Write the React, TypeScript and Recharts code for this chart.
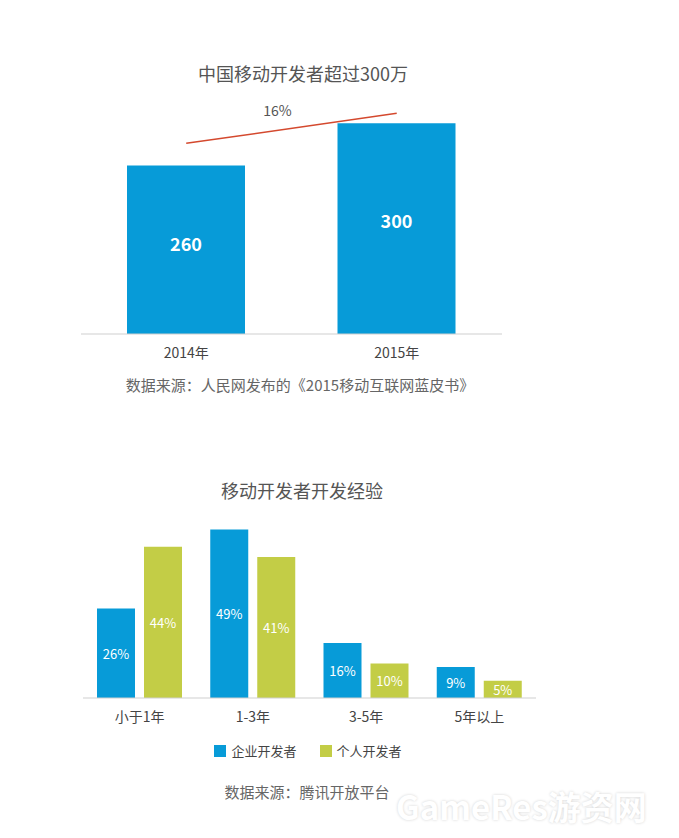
import React from 'react';
import { BarChart, Bar, XAxis, YAxis, ReferenceLine, LabelList, Legend, Label } from 'recharts';

// chart 1: developer count (万)
const years = ['2014年', '2015年'];
const developers = [260, 300];
const growthLabel = '16%';
const trendValues = [281, 309.5];

// chart 2: experience distribution (%)
const experienceBands = ['小于1年', '1-3年', '3-5年', '5年以上'];
const seriesNames = ['企业开发者', '个人开发者'];
const enterpriseShare = [26, 49, 16, 9];
const individualShare = [44, 41, 10, 5];

const BLUE = '#079bd8';
const GREEN = '#c3cd46';
const FONT = '"Noto Sans CJK SC", "Noto Sans", sans-serif';

const topData = years.map((year, i) => ({ year, value: developers[i] }));
const bottomData = experienceBands.map((band, i) => ({
  band,
  enterprise: enterpriseShare[i],
  individual: individualShare[i],
}));

const TopValueLabel = (props: any) => {
  const { x, y, width, height, value } = props;
  return (
    <text x={x + width / 2} y={y + height * 0.46} textAnchor="middle" dominantBaseline="central"
      fill="#fff" fontSize={18} fontWeight={700} fontFamily={FONT}>
      {value}
    </text>
  );
};

const PctLabel = (props: any) => {
  const { x, y, width, height, value } = props;
  return (
    <text x={x + width / 2} y={y + height / 2} textAnchor="middle" dominantBaseline="central"
      fill="#fff" fontSize={13} fontFamily={FONT}>
      {value}%
    </text>
  );
};

const GrowthLabel = (props: any) => {
  const vb = props.viewBox || {};
  const cx = (vb.x ?? 186) + (vb.width ?? 210) / 2 - 14;
  const cy = (vb.y ?? 113) - 3;
  return (
    <text x={cx} y={cy} textAnchor="middle" dominantBaseline="central"
      fill="#555" fontSize={14} fontFamily={FONT}>
      {growthLabel}
    </text>
  );
};

const renderLegend = (props: any) => {
  const payload = [...(props.payload || [])].sort(
    (a: any, b: any) => seriesNames.indexOf(a.value) - seriesNames.indexOf(b.value)
  );
  return (
    <div style={{ display: 'flex', justifyContent: 'center', gap: 23, fontFamily: FONT }}>
      {payload.map((entry: any) => (
        <div key={entry.value} style={{ display: 'flex', alignItems: 'center' }}>
          <span style={{ width: 12, height: 12, background: entry.color, marginRight: 5, display: 'inline-block' }} />
          <span style={{ fontSize: 13, color: '#444', lineHeight: '18px' }}>{entry.value}</span>
        </div>
      ))}
    </div>
  );
};

const textStyle = (x: number, y: number, size: number, color: string): React.CSSProperties => ({
  position: 'absolute',
  left: x - 300,
  top: y - size * 0.7,
  width: 600,
  textAlign: 'center',
  fontSize: size,
  lineHeight: `${size * 1.4}px`,
  color,
  fontFamily: FONT,
  whiteSpace: 'nowrap',
});

export default function App() {
  return (
    <div style={{ position: 'absolute', left: 0, top: 0, width: 679, height: 838, background: '#fff', overflow: 'hidden' }}>
      <div style={textStyle(303, 74, 18, '#555')}>中国移动开发者超过300万</div>

      <div style={{ position: 'absolute', left: 0, top: 0 }}>
        <BarChart width={679} height={400} data={topData} margin={{ top: 18, right: 177, left: 81, bottom: 26 }}>
          <XAxis dataKey="year" height={40} tickLine={false} tickMargin={8}
            axisLine={{ stroke: '#cfcfcf' }} tick={{ fill: '#444', fontSize: 14, fontFamily: FONT }} />
          <YAxis hide domain={[100, 400]} allowDataOverflow />
          <Bar dataKey="value" fill={BLUE} barSize={118} isAnimationActive={false}>
            <LabelList dataKey="value" content={TopValueLabel} />
          </Bar>
          <ReferenceLine
            segment={[{ x: years[0], y: trendValues[0] }, { x: years[1], y: trendValues[1] }]}
            stroke="#d4492e" strokeWidth={1.5} ifOverflow="visible">
            <Label content={GrowthLabel} />
          </ReferenceLine>
        </BarChart>
      </div>

      <div style={textStyle(300, 384, 15, '#666')}>数据来源：人民网发布的《2015移动互联网蓝皮书》</div>

      <div style={textStyle(302, 491, 18, '#555')}>移动开发者开发经验</div>

      <div style={{ position: 'absolute', left: 0, top: 420 }}>
        <BarChart width={679} height={360} data={bottomData} barGap={9}
          margin={{ top: 20, right: 143, left: 83, bottom: 52 }}>
          <XAxis dataKey="band" height={30} tickLine={false} tickMargin={8}
            axisLine={{ stroke: '#cfcfcf' }} tick={{ fill: '#444', fontSize: 14, fontFamily: FONT }} />
          <YAxis hide domain={[0, 75]} />
          <Legend verticalAlign="middle" layout="horizontal" content={renderLegend}
            wrapperStyle={{ top: 322, left: 0, width: 616 }} />
          <Bar dataKey="enterprise" name={seriesNames[0]} fill={BLUE} barSize={38} isAnimationActive={false}>
            <LabelList dataKey="enterprise" content={PctLabel} />
          </Bar>
          <Bar dataKey="individual" name={seriesNames[1]} fill={GREEN} barSize={38} isAnimationActive={false}>
            <LabelList dataKey="individual" content={PctLabel} />
          </Bar>
        </BarChart>
      </div>

      <div style={textStyle(307, 791, 15, '#666')}>数据来源：腾讯开放平台</div>

      <div style={{
        position: 'absolute', left: 396, top: 786, fontSize: 33, fontWeight: 700, fontFamily: FONT,
        color: '#fff', textShadow: '0 0 3px rgba(0,0,0,0.18)', whiteSpace: 'nowrap', lineHeight: '40px',
      }}>
        GameRes游资网
      </div>
    </div>
  );
}
